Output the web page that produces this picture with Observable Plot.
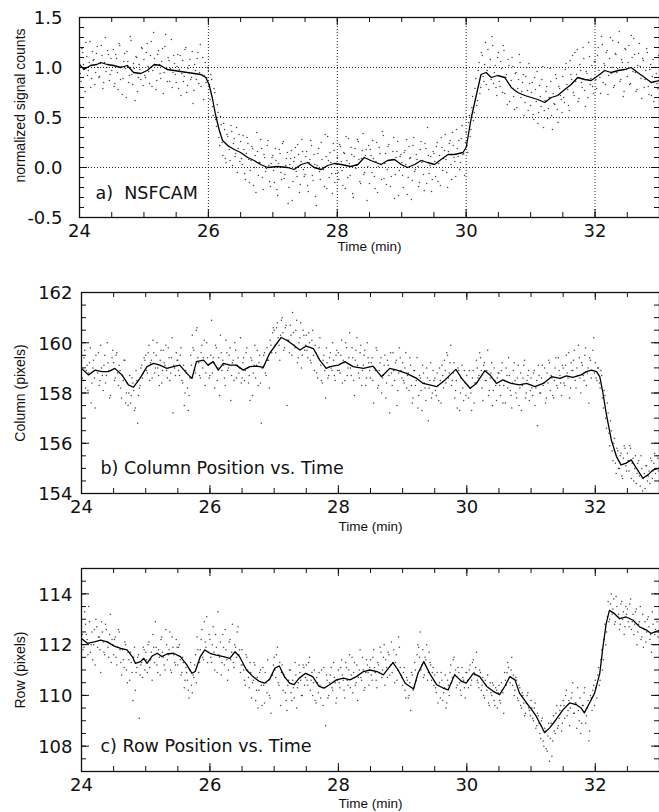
<!DOCTYPE html>
<html><head><meta charset="utf-8">
<script src="https://cdn.jsdelivr.net/npm/d3@7"></script>
<script src="https://cdn.jsdelivr.net/npm/@observablehq/plot@0.6"></script>
<style>
html,body{margin:0;padding:0;background:#fff;}
#wrap{position:relative;width:659px;height:812px;overflow:hidden;}
#wrap > svg{position:absolute;left:0;}
</style></head><body><div id="wrap"></div>
<script>
// ---------- sampling grid of the scatter points (min) ----------
const sampleStart = 24;        // first frame of set 1
const sampleStart2 = 24.0125;  // first frame of set 2 (interleaved frames)
const sampleStep = 0.025;

// ---------- tick labels ----------
const timeLabels = [24, 26, 28, 30, 32];
const gridTimes = [26, 28, 30, 32];
const signalLabels = [-0.5, 0, 0.5, 1, 1.5];
const signalGrid = [0, 0.5, 1];
const columnLabels = [154, 156, 158, 160, 162];
const rowLabels = [108, 110, 112, 114];

// ---------- a) NSFCAM normalized signal ----------
const signalPoints = [
 1.10,0.86,1.15,0.99,1.25,0.92,1.05,0.80,1.16,1.08,0.95,1.21,0.90,1.04,1.12,0.85,1.30,1.00,1.13,0.93,
 0.97,1.18,0.84,1.09,0.78,1.22,1.01,0.89,1.14,0.70,1.06,0.92,1.27,0.83,0.99,1.11,0.76,1.03,0.88,1.19,
 1.08,0.90,1.24,0.96,1.12,0.81,1.35,1.02,0.87,1.17,0.94,1.06,0.74,1.21,0.99,1.10,0.86,1.28,0.95,1.04,
 0.85,1.13,0.98,0.72,1.07,0.91,1.20,0.82,1.02,0.88,1.16,0.77,0.97,1.09,0.84,1.23,0.93,0.68,1.05,0.90,
 0.97,0.68,0.88,0.52,0.75,0.41,0.55,0.22,0.43,0.12,0.38,0.05,0.31,0.18,0.42,0.02,0.29,0.14,-0.05,0.33,
 0.26,0.03,0.18,-0.12,0.30,0.08,-0.03,0.21,-0.18,0.12,0.35,-0.08,0.05,0.19,-0.22,0.10,-0.01,0.27,-0.14,0.04,
 0.12,-0.15,0.07,-0.28,0.18,-0.05,0.24,-0.11,0.02,0.15,-0.20,0.09,-0.33,0.06,0.20,-0.09,0.13,-0.17,0.28,-0.02,
 -0.07,0.16,-0.24,0.08,0.22,-0.13,0.03,-0.38,0.14,-0.04,0.25,0.00,-0.19,0.11,0.31,-0.10,0.05,-0.26,0.17,-0.06,
 0.10,-0.12,0.21,-0.03,0.15,-0.21,0.07,0.29,-0.08,0.13,-0.30,0.19,0.02,0.26,-0.14,0.09,0.34,-0.05,0.18,0.01,
 -0.16,0.12,0.27,-0.09,0.06,-0.25,0.20,0.03,0.36,-0.11,0.14,-0.02,0.23,-0.19,0.08,0.30,-0.07,0.16,-0.28,0.11,
 0.05,-0.20,0.17,0.28,-0.10,0.09,-0.32,0.22,-0.04,0.13,0.01,-0.15,0.26,0.07,-0.23,0.19,0.40,-0.06,0.11,-0.12,
 0.14,-0.09,0.25,0.04,-0.18,0.20,0.09,0.33,-0.05,0.16,0.27,-0.12,0.22,0.06,0.38,0.11,-0.02,0.29,0.13,-0.08,
 0.35,0.15,0.52,0.38,0.71,0.55,0.89,0.67,1.05,0.80,1.12,0.86,1.25,0.97,0.78,1.08,1.31,0.84,1.02,0.72,
 1.15,0.81,0.99,1.22,0.74,0.93,1.08,0.66,0.87,1.01,0.58,0.95,0.79,1.13,0.70,0.85,0.52,0.91,0.77,1.04,
 0.62,0.85,0.48,0.78,0.96,0.55,0.71,0.88,0.40,0.67,0.81,0.59,0.99,0.52,0.74,0.63,0.89,0.45,0.79,0.68,
 0.91,0.65,1.04,0.78,0.57,0.93,1.12,0.72,0.86,1.18,0.69,0.97,0.80,1.09,0.61,0.94,1.25,0.83,1.02,0.74,
 1.06,0.79,1.20,0.90,1.31,0.85,1.02,1.15,0.73,1.09,0.94,1.27,0.82,1.13,0.99,1.36,0.88,1.05,0.76,1.18,
 0.91,1.22,0.84,1.10,1.29,0.95,0.78,1.14,1.01,0.69,1.07,0.88,1.19,0.81,0.98,0.72,1.08,0.86,0.94,0.79
];
const signalPoints2 = [
 0.94,1.19,1.03,0.76,1.11,0.97,1.26,0.89,1.07,0.83,1.14,1.00,0.91,1.22,0.79,1.05,0.96,1.17,0.87,1.09,
 1.02,0.81,1.13,0.95,1.24,0.88,0.73,1.06,0.99,1.16,0.85,1.31,0.93,1.04,0.67,1.10,0.90,0.98,1.20,0.82,
 0.92,1.15,1.01,0.84,1.26,0.97,1.09,0.78,1.13,1.03,0.89,1.19,0.95,1.33,0.86,1.07,0.99,0.80,1.12,0.93,
 1.01,0.79,1.12,0.94,0.86,1.18,0.75,0.99,1.08,0.90,0.64,1.03,0.88,1.15,0.95,0.81,1.10,0.92,0.85,1.00,
 0.83,0.93,0.61,0.79,0.48,0.63,0.30,0.51,0.25,0.44,0.09,0.33,0.21,0.07,0.36,0.24,0.11,0.40,0.19,0.06,
 0.09,0.32,-0.06,0.14,0.24,-0.15,0.07,0.19,0.00,-0.25,0.16,0.05,0.28,-0.10,0.13,-0.04,0.22,0.02,-0.19,0.10,
 -0.03,0.19,-0.22,0.04,0.14,-0.12,0.26,-0.07,0.09,-0.36,0.03,0.17,-0.14,0.10,-0.04,0.23,-0.25,0.06,0.16,-0.09,
 0.11,-0.18,0.05,0.27,-0.08,0.13,-0.29,0.02,0.19,-0.12,0.08,-0.02,0.33,-0.21,0.07,0.15,-0.06,0.24,-0.15,0.04,
 -0.05,0.23,0.06,-0.18,0.14,0.31,-0.10,0.04,0.20,-0.26,0.11,-0.01,0.28,0.08,-0.16,0.17,-0.07,0.12,-0.33,0.22,
 0.18,-0.05,0.09,-0.21,0.25,0.01,0.14,-0.12,0.32,0.04,-0.17,0.21,0.07,-0.09,0.16,-0.31,0.10,0.26,-0.03,0.13,
 -0.08,0.15,0.03,-0.27,0.21,0.10,-0.13,0.30,-0.02,0.08,-0.19,0.18,0.05,-0.07,0.24,-0.16,0.12,0.02,-0.24,0.16,
 0.06,0.21,-0.14,0.12,0.30,-0.03,0.17,0.08,-0.20,0.24,0.03,0.35,0.10,-0.09,0.19,0.27,0.05,0.42,0.14,0.25,
 0.22,0.45,0.31,0.60,0.47,0.79,0.62,0.97,0.74,1.15,0.91,1.03,0.83,1.18,1.00,0.88,1.22,0.95,0.80,1.10,
 0.86,1.06,0.75,1.17,0.90,0.63,1.02,0.82,1.10,0.71,0.94,0.60,0.88,1.05,0.76,0.93,0.65,1.00,0.57,0.84,
 0.75,0.53,0.90,0.66,0.44,0.82,0.61,1.01,0.57,0.76,0.49,0.70,0.86,0.38,0.64,0.93,0.58,0.81,0.72,0.55,
 0.70,0.98,0.83,0.62,1.07,0.88,0.75,1.15,0.93,0.66,1.03,0.85,1.20,0.77,0.96,0.70,1.11,0.89,0.81,1.06,
 0.88,1.12,0.97,0.74,1.23,1.04,0.83,1.17,0.92,1.30,1.00,0.80,1.14,0.95,1.25,0.86,1.08,0.71,1.19,0.98,
 1.05,0.83,1.32,0.96,1.13,0.76,1.02,1.24,0.89,1.09,0.80,0.97,1.15,0.73,1.03,0.91,0.66,1.00,0.84,1.12
];
const signalMean = [
 [24.00,1.03],[24.07,0.98],[24.17,1.02],[24.27,1.03],[24.33,1.05],[24.43,1.03],[24.53,1.02],[24.64,1.00],
 [24.74,1.02],[24.84,0.95],[24.95,0.94],[25.05,0.97],[25.16,1.03],[25.26,1.02],[25.36,0.98],[25.47,0.97],
 [25.57,0.96],[25.67,0.95],[25.78,0.94],[25.88,0.93],[25.96,0.90],[26.01,0.83],[26.06,0.70],[26.11,0.53],
 [26.17,0.37],[26.22,0.27],[26.30,0.22],[26.40,0.18],[26.50,0.15],[26.61,0.10],[26.71,0.07],[26.81,0.03],
 [26.92,0.00],[27.07,0.01],[27.23,0.00],[27.33,-0.02],[27.44,0.03],[27.54,0.05],[27.64,0.00],[27.75,-0.02],
 [27.85,0.02],[27.95,0.04],[28.06,0.03],[28.21,0.01],[28.32,0.03],[28.42,0.10],[28.52,0.07],[28.68,0.03],
 [28.78,0.07],[28.89,0.08],[28.99,0.03],[29.09,0.00],[29.20,0.03],[29.30,0.07],[29.40,0.05],[29.51,0.03],
 [29.61,0.08],[29.72,0.13],[29.82,0.13],[29.95,0.15],[30.00,0.20],[30.08,0.50],[30.16,0.73],[30.23,0.93],
 [30.31,0.95],[30.39,0.90],[30.49,0.92],[30.60,0.90],[30.70,0.80],[30.80,0.75],[30.91,0.72],[31.01,0.70],
 [31.11,0.68],[31.22,0.65],[31.32,0.70],[31.42,0.72],[31.53,0.78],[31.63,0.83],[31.73,0.90],[31.84,0.88],
 [31.94,0.87],[32.05,0.92],[32.15,0.97],[32.25,0.95],[32.36,0.97],[32.46,0.98],[32.56,1.00],[32.66,0.95],
 [32.77,0.90],[32.87,0.85],[33.00,0.87]
];

// ---------- b) Column position ----------
const columnPoints = [
 159.3,158.5,159.7,158.9,158.1,159.2,157.6,159.0,158.6,159.5,158.8,158.3,159.9,158.7,159.1,158.4,160.0,158.9,157.9,159.4,
 159.2,158.6,159.6,158.3,158.9,157.8,158.5,159.3,158.0,157.5,158.7,157.9,158.4,157.3,158.9,156.8,158.2,159.0,158.6,159.4,
 159.5,158.8,159.9,159.2,158.6,159.6,159.0,160.0,158.7,159.3,158.4,159.7,159.1,158.9,159.8,158.5,159.4,157.2,159.0,159.6,
 159.3,158.7,159.8,158.4,157.5,158.9,158.2,157.9,159.5,160.3,159.7,158.8,160.6,159.2,158.6,159.9,159.4,158.3,160.0,159.1,
 158.7,160.9,159.4,158.2,159.8,159.0,157.9,159.6,159.3,158.6,160.1,158.9,159.5,157.7,159.2,158.5,159.7,159.1,158.8,160.2,
 158.6,159.4,158.9,159.8,158.4,157.7,159.3,158.8,159.9,159.1,158.3,159.5,156.8,159.0,159.6,158.7,159.3,158.2,159.9,160.4,
 160.5,159.6,160.8,159.9,160.3,161.0,159.7,160.6,157.5,160.1,160.7,159.5,160.4,159.8,160.9,159.4,160.2,159.0,160.5,159.7,
 160.3,159.4,160.0,159.2,160.5,158.9,159.6,158.6,159.8,159.1,158.4,159.5,157.8,159.2,158.7,159.6,158.9,159.3,158.5,159.7,
 159.6,158.8,160.1,159.3,158.5,159.8,159.0,160.4,158.7,159.4,157.9,159.7,159.1,158.6,159.9,158.9,159.5,158.3,160.0,159.2,
 158.6,159.4,157.6,158.9,159.7,158.3,159.2,158.0,158.7,159.5,158.4,159.1,157.2,158.8,159.6,158.5,159.3,158.1,159.8,158.9,
 159.2,158.4,159.6,158.7,158.1,159.1,157.6,158.9,158.3,159.4,157.9,158.6,157.3,158.8,158.2,159.0,156.9,158.5,157.8,158.9,
 158.6,157.9,158.3,159.0,157.6,158.7,159.3,158.4,159.5,158.8,159.9,158.5,159.2,158.1,157.4,158.9,158.0,159.1,157.7,158.4,
 158.7,157.8,158.2,157.3,158.9,158.4,159.3,158.6,159.6,158.9,157.7,159.2,158.5,159.7,158.1,158.8,157.5,159.0,158.3,158.6,
 158.8,157.9,159.2,158.3,157.6,158.7,159.4,158.1,157.4,158.9,158.5,157.8,159.1,158.2,157.3,158.6,159.3,158.0,158.7,157.7,
 158.6,157.9,158.9,158.2,156.7,158.7,158.0,159.1,158.4,157.6,158.8,159.3,158.1,158.6,157.8,159.0,158.3,159.4,158.7,157.9,
 159.0,158.3,159.5,158.6,157.8,159.2,158.9,159.7,158.2,158.7,159.4,158.0,159.1,158.5,159.8,158.8,157.6,159.3,158.9,160.2,
 159.2,158.5,159.0,158.2,158.7,157.4,157.9,156.6,157.2,155.9,156.5,155.3,156.2,154.8,155.7,155.0,155.6,154.6,155.9,155.1,
 155.6,154.9,155.8,155.2,154.5,155.5,154.8,155.3,154.3,155.0,154.6,154.2,155.1,154.7,154.4,155.3,154.9,155.6,155.0,155.4
];
const columnPoints2 = [
 158.6,159.4,158.2,159.1,158.8,159.8,158.4,159.3,157.4,158.9,159.6,158.5,159.0,158.1,159.5,158.7,159.2,157.8,158.9,159.7,
 158.5,159.5,158.8,159.1,158.2,158.7,159.3,157.6,158.4,158.0,157.6,158.6,158.1,157.4,158.5,157.9,158.3,159.1,158.8,159.3,
 158.9,159.6,158.5,159.3,160.1,158.8,159.5,159.0,158.3,159.7,158.9,159.2,159.9,158.6,159.4,158.8,160.2,159.1,158.7,159.3,
 158.9,159.5,158.5,159.1,158.0,158.8,157.3,158.6,159.1,159.8,158.9,160.5,159.4,158.7,159.6,159.0,160.1,158.8,159.4,158.6,
 159.5,158.8,159.2,159.9,158.5,159.4,160.3,158.9,159.1,158.3,159.6,159.0,159.8,158.7,159.3,160.0,158.6,159.4,159.0,158.4,
 159.2,158.5,159.6,159.0,158.7,159.4,157.9,159.1,158.6,159.7,159.2,158.4,159.0,159.5,158.8,159.8,159.3,160.1,159.6,160.6,
 159.9,160.6,160.2,159.3,160.9,160.4,159.8,160.7,160.1,159.6,160.3,161.2,159.9,160.5,159.2,160.0,160.8,159.5,160.3,159.9,
 159.7,160.4,159.3,160.1,159.5,159.9,158.8,159.4,160.2,158.5,159.3,158.9,159.8,158.6,159.4,159.0,160.0,158.7,159.5,158.9,
 158.9,159.5,158.4,159.2,160.0,158.7,159.4,159.0,159.8,158.5,159.3,160.2,158.8,159.6,158.3,159.1,159.7,158.6,159.4,158.9,
 159.2,158.5,159.0,159.8,158.2,158.9,159.4,158.6,159.1,157.8,159.3,158.7,159.6,158.3,158.9,159.2,157.5,158.8,159.4,158.6,
 158.5,159.0,158.2,158.8,159.4,158.3,157.8,158.9,158.5,157.4,158.7,158.1,159.1,158.4,157.7,158.6,158.2,159.2,158.0,158.5,
 158.1,158.8,157.7,158.5,159.1,158.2,158.9,159.6,158.6,159.2,158.3,158.8,157.8,158.5,159.0,157.3,158.6,158.2,158.9,157.9,
 158.3,158.9,158.0,158.6,157.6,158.4,159.0,158.7,159.4,158.2,159.1,158.5,158.9,157.9,158.6,159.2,158.1,158.5,157.7,158.8,
 158.3,158.9,157.6,158.5,159.0,158.2,158.7,157.9,158.4,159.2,158.0,158.6,157.5,158.8,158.3,159.1,157.8,158.5,158.9,158.1,
 158.2,158.8,157.5,158.5,159.1,158.0,158.6,158.3,159.0,157.8,158.4,159.2,158.7,157.9,158.5,159.4,158.2,158.9,158.4,159.1,
 158.4,159.1,158.8,159.6,158.2,158.9,159.3,158.5,159.0,159.9,158.6,159.2,158.7,159.5,158.3,159.0,159.4,158.6,159.7,158.8,
 158.6,159.0,158.4,158.9,157.8,158.1,157.0,157.6,156.4,156.9,155.7,156.0,155.2,155.8,155.0,155.5,154.7,155.4,155.8,154.9,
 155.3,155.9,154.6,155.4,155.0,154.4,155.2,154.7,155.5,154.1,154.8,155.1,154.5,154.9,155.4,154.6,155.2,154.8,155.5,154.9
];
const columnMean = [
 [24.00,158.98],[24.11,158.72],[24.21,158.91],[24.32,158.85],[24.42,158.85],[24.52,158.98],[24.63,158.72],[24.73,158.32],
 [24.81,158.23],[24.91,158.58],[25.02,159.05],[25.12,159.18],[25.22,159.11],[25.33,158.98],[25.43,159.05],[25.53,159.11],
 [25.64,158.78],[25.72,158.58],[25.79,159.25],[25.90,159.31],[25.97,159.11],[26.05,159.25],[26.13,158.91],[26.21,159.18],
 [26.31,159.11],[26.41,159.11],[26.52,158.91],[26.62,159.05],[26.73,159.07],[26.83,159.02],[26.93,159.58],[27.04,159.97],
 [27.11,160.21],[27.19,160.11],[27.30,159.91],[27.40,159.71],[27.50,159.87],[27.61,159.77],[27.71,159.31],[27.81,158.98],
 [27.87,159.05],[28.00,159.11],[28.10,159.25],[28.23,159.05],[28.39,158.98],[28.54,159.07],[28.67,158.65],[28.80,158.98],
 [28.91,158.91],[29.06,158.78],[29.22,158.58],[29.32,158.38],[29.42,158.32],[29.53,158.25],[29.66,158.52],[29.74,158.72],
 [29.83,158.94],[29.92,158.58],[30.05,158.19],[30.15,158.38],[30.28,158.89],[30.36,158.72],[30.46,158.38],[30.56,158.52],
 [30.69,158.38],[30.82,158.32],[30.93,158.38],[31.06,158.25],[31.19,158.38],[31.32,158.65],[31.45,158.58],[31.55,158.68],
 [31.65,158.62],[31.78,158.72],[31.86,158.85],[31.94,158.91],[32.02,158.85],[32.07,158.65],[32.12,157.99],[32.17,157.19],
 [32.25,156.13],[32.33,155.47],[32.40,155.14],[32.48,155.21],[32.56,155.34],[32.64,155.01],[32.74,154.61],[32.82,154.74],
 [32.90,154.94],[33.00,155.01]
];

// ---------- c) Row position ----------
const rowPoints = [
 112.7,111.8,113.3,112.4,111.6,112.9,112.0,111.4,112.6,113.0,111.9,112.3,110.9,112.5,111.7,112.8,112.1,111.5,113.2,112.2,
 111.6,112.3,111.2,112.6,111.8,110.8,111.4,112.1,111.0,111.7,110.6,111.3,109.8,111.9,110.9,111.5,109.1,111.2,110.7,111.8,
 111.7,110.9,112.1,111.4,110.6,111.9,112.9,111.2,111.8,110.8,112.3,111.5,111.0,112.0,111.6,112.5,110.9,111.9,111.3,112.2,
 111.2,112.0,110.8,111.5,110.3,111.1,110.6,109.9,111.3,110.1,110.7,111.6,112.3,110.9,111.8,112.6,111.4,112.1,113.1,111.7,
 112.2,111.3,112.7,111.0,111.9,113.3,111.5,110.8,112.4,111.2,111.8,110.6,112.1,111.4,112.8,111.1,111.9,112.5,111.6,110.9,
 111.8,111.0,110.4,111.5,110.7,111.3,109.9,110.6,111.2,110.2,109.5,110.9,110.4,111.1,109.7,110.5,111.4,110.0,109.3,110.8,
 111.5,110.7,111.9,110.4,109.6,111.2,110.8,110.1,109.4,110.6,111.0,109.8,110.3,111.3,109.5,110.5,110.9,110.0,111.2,110.4,
 111.2,110.4,111.5,110.6,110.0,111.0,109.7,110.5,110.9,109.9,110.3,111.1,108.8,110.6,110.0,110.8,110.3,111.3,110.5,109.9,
 111.0,110.3,111.4,110.6,109.9,111.1,110.4,111.6,110.8,110.1,111.3,110.5,109.8,111.0,110.7,111.5,110.2,110.9,111.2,110.4,
 111.4,110.6,111.8,110.9,110.3,111.2,111.9,110.7,111.5,110.4,111.1,111.7,110.8,112.1,111.3,110.5,111.6,111.0,111.9,110.8,
 110.4,111.1,109.9,110.6,110.0,109.4,110.8,110.3,111.0,111.6,111.9,112.5,111.2,110.7,111.5,112.0,110.9,111.3,110.6,111.1,
 110.8,110.1,109.7,110.5,110.9,109.8,110.3,109.5,110.6,110.0,111.2,110.7,111.5,111.0,110.4,110.9,110.2,111.1,110.6,109.9,
 110.9,110.3,111.2,110.6,111.4,110.8,111.7,110.5,111.0,110.2,110.7,109.9,110.4,110.8,109.6,110.1,110.5,109.8,110.3,109.5,
 110.4,109.7,110.2,109.3,110.6,110.9,111.1,110.5,111.5,110.8,110.2,110.6,109.8,110.3,109.5,110.0,109.2,109.7,110.1,109.4,
 109.8,109.1,109.5,108.7,109.3,108.9,108.3,109.1,108.0,108.6,107.8,108.9,108.3,107.6,109.2,108.5,109.6,108.8,109.4,108.6,
 109.8,109.1,110.2,109.4,108.8,109.9,110.5,109.3,109.7,110.3,109.0,108.5,109.6,110.1,108.9,109.5,108.2,110.0,109.4,110.4,
 110.6,109.9,111.1,110.6,111.8,111.4,112.8,112.5,113.7,113.0,114.0,113.4,112.8,113.9,113.1,112.6,113.6,113.0,112.4,113.5,
 113.4,112.7,113.8,112.9,112.4,113.3,112.0,112.8,113.5,112.3,111.9,112.9,112.5,113.1,112.2,111.7,112.8,112.4,113.0,112.3
];
const rowPoints2 = [
 112.4,111.9,112.8,112.2,113.5,111.7,112.5,112.0,111.2,112.7,112.3,111.8,112.9,112.1,111.6,112.6,111.9,112.4,111.3,112.0,
 112.2,111.5,111.9,112.5,111.3,111.8,111.1,112.0,110.5,111.4,111.7,110.9,111.5,110.2,111.1,111.6,110.8,111.3,111.9,111.0,
 111.4,112.0,111.1,111.7,112.4,111.3,111.9,110.9,111.5,112.2,111.7,111.2,112.6,111.4,111.8,111.0,112.3,111.6,111.2,111.9,
 111.9,111.4,110.9,111.3,110.6,110.9,110.2,111.0,110.4,110.8,111.2,110.5,111.8,111.3,112.2,111.5,112.9,111.9,111.3,112.4,
 111.5,112.0,111.7,112.4,110.9,111.6,112.1,111.3,111.9,112.6,111.4,111.0,112.2,111.7,111.3,112.0,111.5,112.7,111.8,111.2,
 111.2,110.6,111.6,111.0,110.3,110.9,110.5,111.3,109.8,110.7,110.2,111.0,109.6,110.4,110.9,110.1,110.6,109.9,110.8,111.2,
 111.0,111.6,110.5,111.3,110.9,110.2,110.7,109.8,110.4,111.0,110.1,110.6,109.9,110.8,110.3,111.2,110.6,110.0,111.1,110.7,
 110.6,111.3,110.2,110.9,110.5,109.8,110.7,110.1,110.4,111.0,109.6,110.3,110.8,109.9,110.5,111.1,110.2,110.7,109.7,110.6,
 110.5,111.1,110.8,110.2,111.3,110.6,111.0,110.3,111.5,110.9,110.4,111.2,110.7,111.8,110.6,111.0,110.3,111.4,110.9,111.1,
 110.8,111.5,111.1,110.6,111.3,110.9,111.7,111.0,112.0,111.4,110.7,111.6,111.2,110.9,111.8,111.3,110.6,112.3,111.1,110.7,
 110.9,110.2,110.7,109.9,110.5,110.9,110.2,111.3,110.6,112.0,111.5,111.0,111.8,110.8,111.4,110.6,111.7,111.2,110.9,110.4,
 110.3,110.9,110.4,109.9,110.6,110.1,110.8,109.7,110.4,110.9,110.5,111.4,110.8,110.3,111.1,110.5,110.0,110.7,110.3,110.9,
 110.6,111.0,110.4,111.3,110.9,111.1,110.6,110.3,110.9,110.4,110.0,110.6,110.2,109.7,110.5,110.0,110.4,109.6,110.2,110.1,
 109.8,110.5,110.1,110.9,110.4,111.3,110.7,111.0,110.4,110.0,110.7,109.9,110.4,109.6,110.1,109.7,109.3,110.0,109.5,109.2,
 109.5,109.0,109.7,108.8,109.2,108.5,109.0,108.2,108.7,107.9,108.4,107.4,108.9,108.2,108.6,109.3,108.7,109.1,109.6,108.9,
 109.6,110.0,109.2,109.8,109.5,110.1,109.3,109.7,108.7,109.4,109.9,108.9,109.6,110.3,109.2,109.8,108.6,109.9,110.2,109.6,
 110.3,110.8,110.4,111.4,111.0,112.2,112.0,113.1,112.9,113.6,113.2,113.8,112.9,113.5,113.2,112.8,113.7,113.3,112.7,113.2,
 112.9,113.6,112.6,113.2,112.8,113.4,112.5,112.9,112.2,113.2,112.6,112.1,113.0,112.7,112.4,113.3,112.0,112.6,112.9,112.5
];
const rowMean = [
 [24.00,112.24],[24.09,112.05],[24.20,112.11],[24.30,112.18],[24.40,112.11],[24.51,111.94],[24.61,111.85],[24.71,111.79],
 [24.79,111.53],[24.84,111.26],[24.92,111.33],[24.97,111.46],[25.02,111.26],[25.10,111.55],[25.18,111.66],[25.25,111.53],
 [25.33,111.63],[25.43,111.66],[25.54,111.53],[25.64,111.20],[25.72,110.87],[25.77,110.94],[25.85,111.53],[25.92,111.79],
 [26.00,111.66],[26.10,111.59],[26.21,111.53],[26.31,111.46],[26.39,111.72],[26.46,111.53],[26.57,111.00],[26.67,110.74],
 [26.77,110.55],[26.85,110.48],[26.93,110.64],[27.01,111.07],[27.08,111.16],[27.16,110.74],[27.24,110.48],[27.31,110.42],
 [27.39,110.68],[27.49,110.87],[27.60,110.74],[27.70,110.35],[27.78,110.29],[27.86,110.42],[27.97,110.61],[28.08,110.68],
 [28.18,110.61],[28.28,110.74],[28.39,110.94],[28.49,111.00],[28.60,110.94],[28.70,110.81],[28.78,111.07],[28.85,111.29],
 [28.93,111.00],[29.04,110.48],[29.17,110.25],[29.24,110.87],[29.33,111.33],[29.42,110.87],[29.53,110.42],[29.63,110.29],
 [29.71,110.22],[29.81,110.81],[29.92,110.55],[29.99,110.48],[30.10,110.87],[30.20,110.74],[30.31,110.35],[30.41,110.16],
 [30.51,110.03],[30.59,110.35],[30.67,110.74],[30.75,110.61],[30.82,110.09],[30.93,109.70],[31.01,109.44],[31.08,109.18],
 [31.16,108.79],[31.21,108.53],[31.29,108.72],[31.39,109.05],[31.50,109.44],[31.60,109.70],[31.70,109.64],[31.78,109.50],
 [31.83,109.31],[31.91,109.70],[31.99,110.09],[32.07,110.87],[32.12,111.92],[32.17,112.83],[32.22,113.35],[32.30,113.22],
 [32.38,113.02],[32.48,113.09],[32.59,112.96],[32.69,112.70],[32.80,112.57],[32.87,112.44],[33.00,112.57]
];

const FONT = "'Liberation Sans', Arial, Helvetica, sans-serif";
const BIG = "'DejaVu Sans', 'Liberation Sans', sans-serif";

function panel(o) {
  const W = 659, mt = 17, mb = o.mb;
  const innerW = W - o.ml;
  const innerH = o.innerH;
  const xMinor = d3.range(24, 33.0001, 0.5);
  const yMinor = d3.range(o.yDomain[0], o.yDomain[1] + 1e-9, o.yMinorStep);
  const pts = o.points.map((v, i) => ({t: sampleStart + i * sampleStep, v}))
    .concat(o.points2.map((v, i) => ({t: sampleStart2 + i * sampleStep, v})));
  const mean = o.mean.map(([t, v]) => ({t, v}));
  const tk = {stroke: "#111", strokeWidth: 1};
  const marks = [];
  if (o.grid) {
    marks.push(Plot.ruleX(gridTimes, {stroke: "#222", strokeWidth: 1, strokeDasharray: "1,2"}));
    marks.push(Plot.ruleY(o.grid, {stroke: "#222", strokeWidth: 1, strokeDasharray: "1,2"}));
  }
  marks.push(
    Plot.dot(pts, {x: "t", y: "v", r: 0.75, fill: "#222", fillOpacity: 0.85, stroke: null, clip: true}),
    Plot.line(mean, {x: "t", y: "v", stroke: "#000", strokeWidth: 1.3, clip: true}),
    // x ticks, bottom and top, inward
    Plot.tickX(xMinor, {x: d => d, insetTop: innerH - 5, ...tk}),
    Plot.tickX(xMinor, {x: d => d, insetBottom: innerH - 5, ...tk}),
    Plot.tickX(timeLabels, {x: d => d, insetTop: innerH - 8, ...tk}),
    Plot.tickX(timeLabels, {x: d => d, insetBottom: innerH - 8, ...tk}),
    // y ticks, left and right, inward
    Plot.tickY(yMinor, {y: d => d, insetRight: innerW - 5, ...tk}),
    Plot.tickY(yMinor, {y: d => d, insetLeft: innerW - 5, ...tk}),
    Plot.tickY(o.yLabels, {y: d => d, insetRight: innerW - 8, ...tk}),
    Plot.tickY(o.yLabels, {y: d => d, insetLeft: innerW - 8, ...tk}),
    Plot.frame({stroke: "#111", strokeWidth: 1.3}),
    // tick labels
    Plot.text(timeLabels, {x: d => d, text: d => String(d), frameAnchor: "bottom", dy: o.tickDy,
      lineAnchor: "middle", fontSize: 18, fontFamily: BIG, fill: "#111"}),
    Plot.text(o.yLabels, {y: d => d, text: o.fmt, frameAnchor: "left", textAnchor: "end", dx: -o.padY, dy: 1,
      lineAnchor: "middle", fontSize: 18, fontFamily: BIG, fill: "#111"}),
    // titles
    Plot.text([o.ylabel], {frameAnchor: "left", textAnchor: "middle", lineAnchor: "middle", text: d => d, rotate: -90,
      dx: 20 - o.ml, dy: o.ylabelDy, fontSize: 14}),
    Plot.text(["Time (min)"], {x: 28.5, frameAnchor: "bottom", lineAnchor: "middle", text: d => d, dy: o.timeDy, fontSize: 13.5}),
    Plot.text([o.title], {x: 24, y: o.titleY, text: d => d, textAnchor: "start", lineAnchor: "middle", dx: o.titleDx,
      fontSize: 17.5, fontFamily: BIG})
  );
  const svg = Plot.plot({
    width: W, height: mt + innerH + mb,
    marginTop: mt, marginBottom: mb, marginLeft: o.ml, marginRight: 0,
    style: {fontFamily: FONT, color: "#111", background: "transparent", overflow: "visible"},
    x: {domain: [24, 33], axis: null},
    y: {domain: o.yDomain, axis: null},
    marks
  });
  svg.style.top = o.top + "px";
  return svg;
}

const wrap = document.getElementById("wrap");
wrap.append(panel({
  top: 0, ml: 79, innerH: 200, mb: 40,
  yDomain: [-0.5, 1.5], yLabels: signalLabels, yMinorStep: 0.1, padY: 17,
  fmt: d => d.toFixed(1), grid: signalGrid,
  points: signalPoints, points2: signalPoints2, mean: signalMean,
  ylabel: "normalized signal counts", ylabelDy: -12,
  title: "a)  NSFCAM", titleY: -0.26, titleDx: 16, tickDy: 14, timeDy: 29.5
}));
wrap.append(panel({
  top: 275, ml: 81, innerH: 201, mb: 45,
  yDomain: [154, 162], yLabels: columnLabels, yMinorStep: 0.5, padY: 9,
  fmt: d => String(d), grid: null,
  points: columnPoints, points2: columnPoints2, mean: columnMean,
  ylabel: "Column (pixels)", ylabelDy: 0,
  title: "b) Column Position vs. Time", titleY: 155.0, titleDx: 19, tickDy: 14, timeDy: 33
}));
wrap.append(panel({
  top: 551, ml: 81, innerH: 203, mb: 41,
  yDomain: [107, 115], yLabels: rowLabels, yMinorStep: 0.5, padY: 9,
  fmt: d => String(d), grid: null,
  points: rowPoints, points2: rowPoints2, mean: rowMean,
  ylabel: "Row (pixels)", ylabelDy: 0,
  title: "c) Row Position vs. Time", titleY: 108.0, titleDx: 19, tickDy: 14, timeDy: 32
}));
</script></body></html>
